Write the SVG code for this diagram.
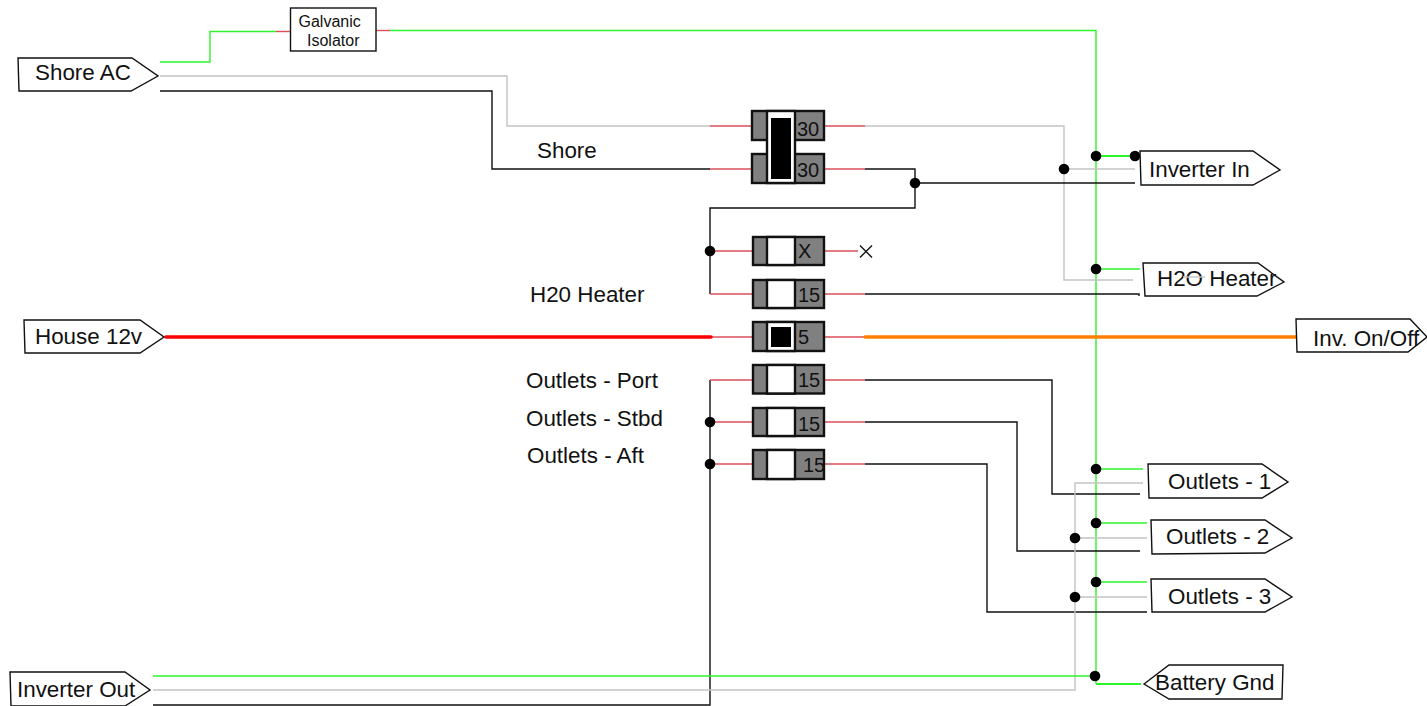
<svg xmlns="http://www.w3.org/2000/svg" width="1427" height="706" viewBox="0 0 1427 706">
<style>
text{font-family:"Liberation Sans",Arial,sans-serif;fill:#111}
.t{font-size:22.4px}
.v{font-size:20px}
.s{font-size:16px}
.tag{fill:#fff;stroke:#111;stroke-width:1.4}
.w{fill:none;stroke-linejoin:miter}
.g{stroke:#2cf52c;stroke-width:1.4}
.y{stroke:#c4c4c4;stroke-width:1.4}
.b{stroke:#111;stroke-width:1.4}
.r{stroke:#d9505a;stroke-width:1.4}
.f{fill:#808080;stroke:#111;stroke-width:2.4}
.c{fill:#fff;stroke:#111;stroke-width:2.4}
.d{fill:#000}
</style>
<g id="connectors" class="w">
<path class="w g" d="M160 62H210V31.5H276"/>
<path class="w r" d="M276 31.5H290"/>
<path class="w r" d="M376 30.5H390"/>
<path class="w g" d="M390 30.5H1096V684"/>
<path class="w g" style="stroke-width:2" d="M1096 684H1141"/>
<path class="w y" d="M160 76H507V126H710"/>
<path class="w y" d="M865 126H1064V280H1133"/>
<path class="w y" d="M1064 169H1135"/>
<path class="w b" d="M160 91H492V169H710"/>
<path class="w b" d="M865 169H915V208H710V294"/>
<path class="w b" d="M915 183H1135"/>
<path class="w b" d="M865 294H1139V296"/>
<path class="w r" d="M710 126H752M824 126H865M710 169H752M824 169H865M710 251H752M824 251H858M710 294H752M824 294H865M711 337H752M824 337H865"/>
<path class="w b" d="M860 245.500L872 257.500M872 245.500L860 257.500"/>
<path class="w" style="stroke:#ff0000;stroke-width:3.500;stroke-linecap:round" d="M166 337H711"/>
<path class="w" style="stroke:#ff8000;stroke-width:3.500;stroke-linecap:round" d="M865 337H1296"/>
<path class="w b" d="M153 705H710V380"/>
<path class="w b" d="M865 380H1052V494H1140"/>
<path class="w b" d="M865 422H1017V551H1140"/>
<path class="w b" d="M865 464H987V612H1147"/>
<path class="w r" d="M710 380H752M824 380H865M710 422H752M824 422H865M710 464H752M824 464H865"/>
<path class="w y" d="M153 690H1075V483H1143"/>
<path class="w y" d="M1075 538H1147M1075 597H1147"/>
<path class="w g" d="M153 676H1096"/>
<path class="w g" style="stroke-width:2" d="M1096 156H1135"/>
<path class="w g" d="M1096 269H1139V268M1096 469H1143M1096 523H1147M1096 582H1147"/>
<circle class="d" cx="915" cy="183" r="5.300"/>
<circle class="d" cx="710" cy="251" r="5.300"/>
<circle class="d" cx="710" cy="422" r="5.300"/>
<circle class="d" cx="710" cy="464" r="5.300"/>
<circle class="d" cx="1064" cy="169" r="5.300"/>
<circle class="d" cx="1096" cy="156" r="5.300"/>
<circle class="d" cx="1135" cy="156" r="5.300"/>
<circle class="d" cx="1096" cy="269" r="5.300"/>
<circle class="d" cx="1096" cy="469" r="5.300"/>
<circle class="d" cx="1096" cy="523" r="5.300"/>
<circle class="d" cx="1096" cy="582" r="5.300"/>
<circle class="d" cx="1075" cy="538" r="5.300"/>
<circle class="d" cx="1075" cy="597" r="5.300"/>
<circle class="d" cx="1095" cy="676" r="5.300"/>
</g>
<g id="shore-ac"><polygon class="tag" points="18,58 132,58 158,76 131,91 19,91"/><text class="t" x="35" y="80">Shore AC</text></g>
<g id="galvanic-isolator"><rect x="290.500" y="8" width="85.500" height="43" fill="#fff" stroke="#111" stroke-width="1.400"/><text class="s" x="298.500" y="27">Galvanic</text><text class="s" x="307" y="46">Isolator</text></g>
<g id="house-12v"><polygon class="tag" points="24,320 140,320 164,337 140,353 25,353"/><text class="t" x="35" y="344">House 12v</text></g>
<g id="inverter-out"><polygon class="tag" points="10,672 125,672 150,690 125,706 11,706"/><text class="t" x="17" y="697">Inverter Out</text></g>
<g id="inverter-in"><polygon class="tag" points="1140,151 1253,151 1280,170 1253,185 1141,185"/><text class="t" x="1149" y="177">Inverter In</text></g>
<g id="h2o-heater"><polygon class="tag" points="1143,263 1258,263 1284,282 1257,296 1145,296"/><text class="t" x="1157" y="286">H2O Heater</text><path class="w y" d="M1183 277H1205"/></g>
<g id="inv-onoff"><polygon class="tag" points="1296,319 1410,319 1427,337 1408,352 1297,352"/><text class="t" x="1313" y="346">Inv. On/Off</text></g>
<g id="outlets-1"><polygon class="tag" points="1148,464 1262,464 1288,482 1262,498 1149,498"/><text class="t" x="1168" y="489">Outlets - 1</text></g>
<g id="outlets-2"><polygon class="tag" points="1151,520 1265,520 1292,538 1265,553 1152,554"/><text class="t" x="1166" y="544">Outlets - 2</text></g>
<g id="outlets-3"><polygon class="tag" points="1151,579 1265,579 1292,597 1265,612 1152,612"/><text class="t" x="1168" y="604">Outlets - 3</text></g>
<g id="battery-gnd"><polygon class="tag" points="1144,684 1169,665 1283,665 1282,699 1169,699"/><text class="t" x="1155" y="690">Battery Gnd</text></g>
<g id="breaker-shore"><rect class="f" x="752" y="111" width="72" height="29"/><rect class="f" x="752" y="154" width="72" height="29"/><rect class="c" x="767" y="111" width="28" height="72"/><rect x="771" y="118" width="20" height="61" fill="#000"/><text class="v" x="797" y="135.500">30</text><text class="v" x="797" y="177">30</text></g>
<g id="breaker-x"><rect class="f" x="753" y="237" width="71" height="28"/><rect class="c" x="767" y="237" width="28" height="28"/><text class="v" x="798" y="258">X</text></g>
<g id="breaker-h20"><rect class="f" x="753" y="280" width="71" height="28"/><rect class="c" x="767" y="280" width="28" height="28"/><text class="v" x="798" y="302">15</text></g>
<g id="breaker-inv"><rect class="f" x="753" y="322" width="71" height="29"/><rect class="c" x="767" y="322" width="28" height="29"/><rect x="771" y="327" width="20" height="20" fill="#000"/><text class="v" x="798" y="344">5</text></g>
<g id="breaker-port"><rect class="f" x="753" y="365" width="71" height="28.500"/><rect class="c" x="767" y="365" width="28" height="28.500"/><text class="v" x="798" y="387">15</text></g>
<g id="breaker-stbd"><rect class="f" x="753" y="408" width="71" height="28"/><rect class="c" x="767" y="408" width="28" height="28"/><text class="v" x="798" y="431">15</text></g>
<g id="breaker-aft"><rect class="f" x="753" y="450" width="71" height="29"/><rect class="c" x="767" y="450" width="28" height="29"/><text class="v" x="803" y="472">15</text></g>
<g id="labels"><text class="t" x="537" y="158">Shore</text><text class="t" x="530" y="302">H20 Heater</text><text class="t" x="526" y="388">Outlets - Port</text><text class="t" x="526" y="426">Outlets - Stbd</text><text class="t" x="527" y="463">Outlets - Aft</text></g>
</svg>
